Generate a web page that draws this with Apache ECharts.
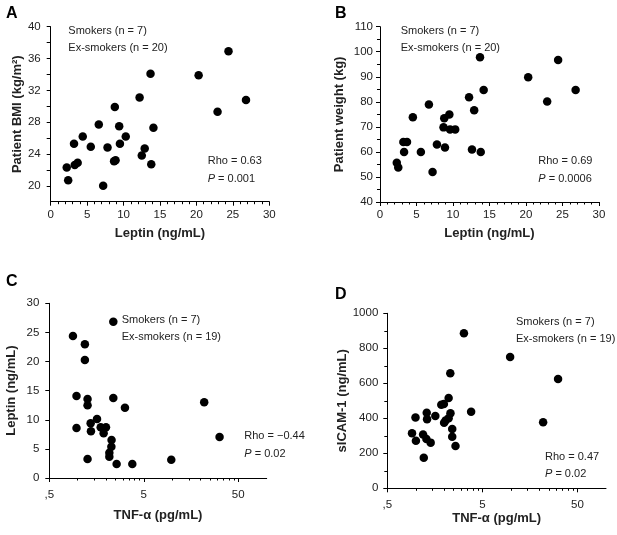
<!DOCTYPE html>
<html><head><meta charset="utf-8">
<script src="https://cdn.jsdelivr.net/npm/echarts@6/dist/echarts.min.js"></script>
<style>html,body{margin:0;padding:0;background:#fff}#c{width:617px;height:535px}</style>
</head><body><div id="c"></div>
<script>
// Panel A: leptin vs BMI
const leptinA = [2.2,2.4,3.2,3.3,3.7,4.4,5.5,6.6,7.2,7.8,8.7,8.9,8.8,9.4,9.5,10.3,12.2,12.5,12.9,13.7,13.8,14.1,20.3,22.9,24.4,26.8];
const bmiA    = [22.3,20.7,25.3,22.6,22.9,26.2,24.9,27.7,20.0,24.8,23.1,23.2,29.9,27.5,25.3,26.2,31.1,23.8,24.7,34.1,22.7,27.3,33.9,29.3,36.9,30.8];
// Panel B: leptin vs weight
const leptinB = [2.3,2.5,3.2,3.3,3.7,4.5,5.6,6.7,7.2,7.8,8.8,8.9,8.7,9.5,9.6,10.3,12.2,12.6,12.9,13.7,13.8,14.2,20.3,22.9,24.4,26.8];
const weightB = [55.7,53.8,64,60,64,73.8,60,78.9,52,63,73.4,61.8,69.8,74.9,69,69,81.8,61,76.6,97.8,60,84.7,89.8,80.1,96.7,84.7];
// Panel C: TNF-alpha vs leptin
const tnfC    = [2.38,0.89,1.19,1.19,0.97,1.27,1.27,2.38,3.16,1.60,1.37,0.97,1.38,1.75,1.99,1.88,2.28,2.27,2.16,2.16,1.27,2.58,3.78,9.77,21.8,31.7];
const leptinC = [26.85,24.4,22.95,20.26,14.08,13.57,12.48,13.74,12.08,10.13,9.39,8.59,8.01,8.7,8.7,7.67,6.53,5.38,4.35,3.66,3.26,2.4,2.4,3.15,12.99,7.04];
// Panel D: TNF-alpha vs sICAM-1
const tnfD    = [3.20,9.8,31.3,2.30,2.21,1.85,1.97,2.31,2.21,2.05,1.98,3.81,21.8,1.30,1.31,1.60,0.99,0.91,1.0,1.19,1.29,1.43,1.21,2.41,2.41,2.61];
const sicamD  = [886,750,625,657,516,478,482,429,400,387,375,438,377,432,394,413,404,314,272,307,282,261,175,339,295,242];
// Tick values
const yTicksA = [20,24,28,32,36,40];
const yMinorA = [20,22,24,26,28,30,32,34,36,38,40];
const logMajor = [0.5,5,50];
const logMinor = [1,1.5,2,2.5,3,3.5,4,4.5,10,15,20,25,30,35,40,45];

const FONT = '"Liberation Sans", Arial, sans-serif';
const TXT = '#222';
const zip = (a,b) => a.map((v,i)=>[v,b[i]]);

const axLine = {show:true, lineStyle:{color:'#000', width:1}};
const lbl = (m) => ({color:TXT, fontSize:11.5, fontFamily:FONT, margin:m, formatter:v => String(v)});
const nameStyle = {color:TXT, fontSize:13, fontWeight:'bold', fontFamily:FONT};

function linX(grid, gap){
  return {type:'value', gridIndex:grid, min:0, max:30, interval:5,
    axisLine:axLine, axisTick:{show:true, length:4, lineStyle:{color:'#000'}},
    minorTick:{show:true, splitNumber:5, length:2.5, lineStyle:{color:'#000'}},
    axisLabel:lbl(7), splitLine:{show:false}, minorSplitLine:{show:false},
    name:'Leptin (ng/mL)', nameLocation:'middle', nameGap:gap, nameTextStyle:nameStyle};
}
function logX(grid, gap){
  return [{type:'log', gridIndex:grid, min:0.5, max:100, logBase:10,
    axisLine:axLine, axisTick:{show:true, length:4, customValues:logMajor, lineStyle:{color:'#000'}},
    axisLabel:Object.assign(lbl(11), {customValues:logMajor, formatter:v => (Math.abs(v-0.5)<1e-9 ? ',5' : String(Math.round(v)))}),
    splitLine:{show:false},
    name:'TNF-\u03b1 (pg/mL)', nameLocation:'middle', nameGap:gap, nameTextStyle:nameStyle},
   {type:'log', gridIndex:grid, min:0.5, max:100, logBase:10, position:'bottom',
    axisLine:{show:false}, axisTick:{show:true, length:2.5, customValues:logMinor, lineStyle:{color:'#000'}},
    axisLabel:{show:false}, splitLine:{show:false}}];
}

const grids = [
  {left:50.7, top:26.7, width:218.6, height:175},
  {left:380, top:26.7, width:219, height:175.3},
  {left:49.3, top:303.3, width:217.4, height:174.7},
  {left:387.3, top:313.3, width:218.7, height:175}
];

const cX = logX(2, 31), dX = logX(3, 23);
const xAxes = [linX(0,25), linX(1,25), cX[0], dX[0], cX[1], dX[1]];

const yAxes = [
  {type:'value', gridIndex:0, min:18, max:40, axisLine:axLine,
   axisTick:{show:true, length:4, customValues:yMinorA, lineStyle:{color:'#000'}},
   axisLabel:Object.assign(lbl(10), {customValues:yTicksA}), splitLine:{show:false},
   name:'Patient BMI (kg/m\u00b2)', nameLocation:'middle', nameGap:27, nameTextStyle:nameStyle},
  {type:'value', gridIndex:1, min:40, max:110, interval:10, axisLine:axLine,
   axisTick:{show:true, length:4, lineStyle:{color:'#000'}},
   minorTick:{show:true, splitNumber:2, length:3, lineStyle:{color:'#000'}},
   axisLabel:lbl(7), splitLine:{show:false}, minorSplitLine:{show:false},
   name:'Patient weight (kg)', nameLocation:'middle', nameGap:34, nameTextStyle:nameStyle},
  {type:'value', gridIndex:2, min:0, max:30, interval:5, axisLine:axLine,
   axisTick:{show:true, length:4, lineStyle:{color:'#000'}},
   axisLabel:lbl(10), splitLine:{show:false},
   name:'Leptin (ng/mL)', nameLocation:'middle', nameGap:31, nameTextStyle:nameStyle},
  {type:'value', gridIndex:3, min:0, max:1000, interval:200, axisLine:axLine,
   axisTick:{show:true, length:4, lineStyle:{color:'#000'}},
   minorTick:{show:true, splitNumber:2, length:3, lineStyle:{color:'#000'}},
   axisLabel:lbl(9), splitLine:{show:false}, minorSplitLine:{show:false},
   name:'sICAM-1 (ng/mL)', nameLocation:'middle', nameGap:35, nameTextStyle:nameStyle}
];

const dot = {color:'#000', opacity:1};
const series = [
  {type:'scatter', xAxisIndex:0, yAxisIndex:0, data:zip(leptinA,bmiA), symbolSize:8.5, itemStyle:dot, silent:true},
  {type:'scatter', xAxisIndex:1, yAxisIndex:1, data:zip(leptinB,weightB), symbolSize:8.5, itemStyle:dot, silent:true},
  {type:'scatter', xAxisIndex:2, yAxisIndex:2, data:zip(tnfC,leptinC), symbolSize:8.5, itemStyle:dot, silent:true},
  {type:'scatter', xAxisIndex:3, yAxisIndex:3, data:zip(tnfD,sicamD), symbolSize:8.5, itemStyle:dot, silent:true}
];

function letter(x,y,s){ return {type:'text', x:x, y:y, style:{text:s, fill:'#000', font:'bold 16px '+FONT, verticalAlign:'middle'}}; }
function pText(x,y,val){
  return {type:'text', x:x, y:y, style:{text:'{i|P} = '+val, fill:TXT, font:'11px '+FONT, verticalAlign:'middle',
    rich:{i:{fontStyle:'italic', fontSize:11, fontFamily:FONT, fill:TXT}}}};
}
function plain(x,y,s){ return {type:'text', x:x, y:y, style:{text:s, fill:TXT, font:'11px '+FONT, verticalAlign:'middle'}}; }

const graphic = [
  letter(6,14,'A'), letter(335,14,'B'), letter(6,282,'C'), letter(335,295,'D'),
  plain(68.3,30.7,'Smokers (n = 7)'), plain(68.3,48.3,'Ex-smokers (n = 20)'),
  plain(207.7,161,'Rho = 0.63'), pText(207.7,179,'0.001'),
  plain(400.7,30.7,'Smokers (n = 7)'), plain(400.7,48.3,'Ex-smokers (n = 20)'),
  plain(538.3,161,'Rho = 0.69'), pText(538.3,179,'0.0006'),
  plain(121.7,320,'Smokers (n = 7)'), plain(121.7,337.3,'Ex-smokers (n = 19)'),
  plain(244.3,436,'Rho = \u22120.44'), pText(244.3,454,'0.02'),
  plain(516,321.7,'Smokers (n = 7)'), plain(516,339.3,'Ex-smokers (n = 19)'),
  plain(545,456.7,'Rho = 0.47'), pText(545,473.7,'0.02')
];

const chart = echarts.init(document.getElementById('c'), null, {renderer:'canvas'});
chart.setOption({
  animation:false, backgroundColor:'#fff',
  textStyle:{fontFamily:FONT},
  grid:grids, xAxis:xAxes, yAxis:yAxes, series:series, graphic:graphic
});
</script></body></html>
